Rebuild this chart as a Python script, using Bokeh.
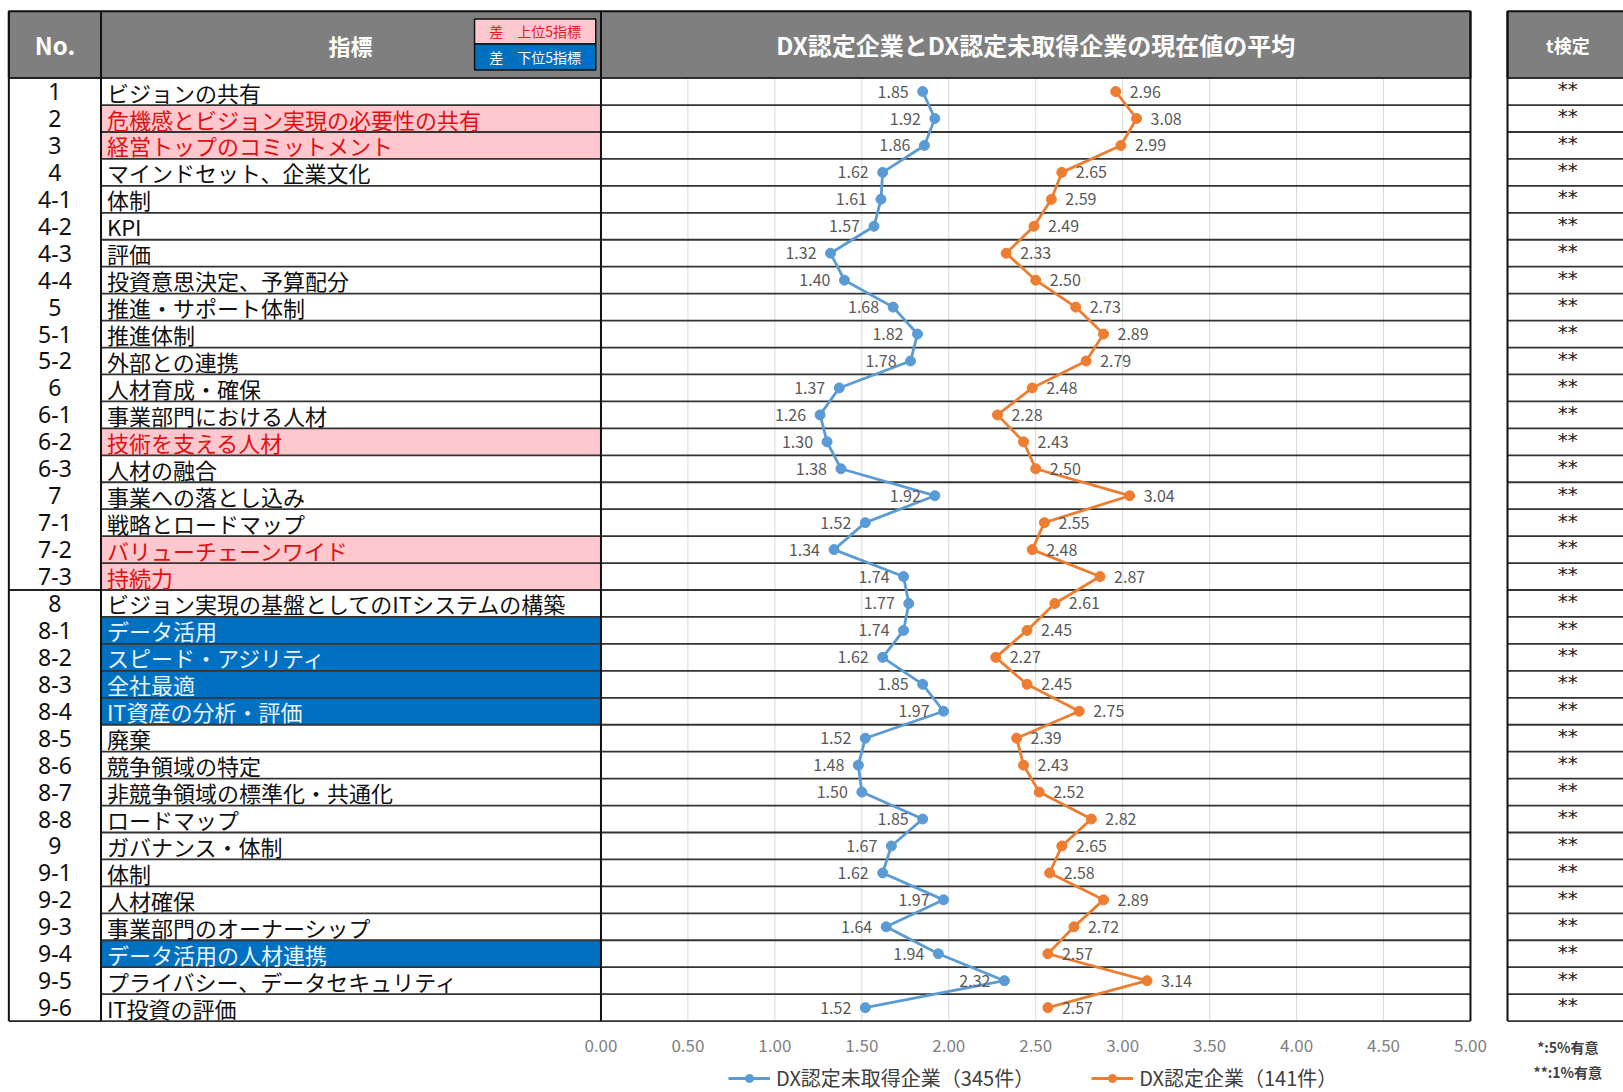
from bokeh.plotting import figure
from bokeh.models import Range1d, ColumnDataSource, Legend, LegendItem
from bokeh.core.properties import value
from bokeh.embed import file_html
from bokeh.resources import INLINE

# ---------------- data ----------------
nos = ["1", "2", "3", "4", "4-1", "4-2", "4-3", "4-4", "5", "5-1", "5-2",
       "6", "6-1", "6-2", "6-3", "7", "7-1", "7-2", "7-3",
       "8", "8-1", "8-2", "8-3", "8-4", "8-5", "8-6", "8-7", "8-8",
       "9", "9-1", "9-2", "9-3", "9-4", "9-5", "9-6"]
indicators = ["ビジョンの共有", "危機感とビジョン実現の必要性の共有", "経営トップのコミットメント",
              "マインドセット、企業文化", "体制", "KPI", "評価", "投資意思決定、予算配分",
              "推進・サポート体制", "推進体制", "外部との連携",
              "人材育成・確保", "事業部門における人材", "技術を支える人材", "人材の融合",
              "事業への落とし込み", "戦略とロードマップ", "バリューチェーンワイド", "持続力",
              "ビジョン実現の基盤としてのITシステムの構築", "データ活用", "スピード・アジリティ",
              "全社最適", "IT資産の分析・評価", "廃棄", "競争領域の特定", "非競争領域の標準化・共通化",
              "ロードマップ", "ガバナンス・体制", "体制", "人材確保", "事業部門のオーナーシップ",
              "データ活用の人材連携", "プライバシー、データセキュリティ", "IT投資の評価"]
non_certified = [1.85, 1.92, 1.86, 1.62, 1.61, 1.57, 1.32, 1.40, 1.68, 1.82, 1.78,
                 1.37, 1.26, 1.30, 1.38, 1.92, 1.52, 1.34, 1.74,
                 1.77, 1.74, 1.62, 1.85, 1.97, 1.52, 1.48, 1.50, 1.85,
                 1.67, 1.62, 1.97, 1.64, 1.94, 2.32, 1.52]
certified = [2.96, 3.08, 2.99, 2.65, 2.59, 2.49, 2.33, 2.50, 2.73, 2.89, 2.79,
             2.48, 2.28, 2.43, 2.50, 3.04, 2.55, 2.48, 2.87,
             2.61, 2.45, 2.27, 2.45, 2.75, 2.39, 2.43, 2.52, 2.82,
             2.65, 2.58, 2.89, 2.72, 2.57, 3.14, 2.57]
top5 = ["2", "3", "6-2", "7-2", "7-3"]
bottom5 = ["8-1", "8-2", "8-3", "8-4", "9-4"]
ttest = ["**", "**", "**", "**", "**", "**", "**", "**", "**", "**", "**",
         "**", "**", "**", "**", "**", "**", "**", "**",
         "**", "**", "**", "**", "**", "**", "**", "**", "**",
         "**", "**", "**", "**", "**", "**", "**"]
ticks = [0.0, 0.5, 1.0, 1.5, 2.0, 2.5, 3.0, 3.5, 4.0, 4.5, 5.0]
tick_labels = ["0.00", "0.50", "1.00", "1.50", "2.00", "2.50", "3.00", "3.50", "4.00", "4.50", "5.00"]
title = "DX認定企業とDX認定未取得企業の現在値の平均"
series_names = ["DX認定未取得企業（345件）", "DX認定企業（141件）"]
footnotes = ["*:5%有意", "**:1%有意"]

# ---------------- layout constants ----------------
JP = value("Noto Sans CJK JP")
BLUE = "#5B9BD5"
ORANGE = "#ED7D31"
n = len(nos)
rows = list(range(n))

X_LEFT, X_NO, X_IND, X_CH, X_T0, X_T1 = -3.405, -2.875, 0.0, 5.0, 5.213, 6.1
Y_HEAD = -2.98
Y_TOP = -0.5
Y_BOT = n - 0.5

p = figure(width=1623, height=1092, output_backend="svg", toolbar_location=None,
           x_range=Range1d(-3.453, 5.880), y_range=Range1d(37.15, -3.38),
           x_axis_type=None, y_axis_type=None, min_border=0)
p.outline_line_color = None
p.background_fill_color = "white"
p.border_fill_color = "white"
p.xgrid.visible = False
p.ygrid.visible = False

# header cells
p.quad(left=[X_LEFT, X_NO, X_IND, X_T0], right=[X_NO, X_IND, X_CH, X_T1],
       top=[Y_HEAD] * 4, bottom=[Y_TOP] * 4,
       fill_color="#7F7F7F", line_color="#111111", line_width=2)

# highlighted indicator cells
hl_top = [i for i in rows if nos[i] in top5]
hl_bot = [i for i in rows if nos[i] in bottom5]
p.quad(left=X_NO, right=X_IND, top=[i - 0.5 for i in hl_top], bottom=[i + 0.5 for i in hl_top],
       fill_color="#FFC7CE", line_color=None)
p.quad(left=X_NO, right=X_IND, top=[i - 0.5 for i in hl_bot], bottom=[i + 0.5 for i in hl_bot],
       fill_color="#0070C0", line_color=None)

# vertical gridlines in chart
grid_x = ticks[1:-1]
p.segment(x0=grid_x, x1=grid_x, y0=[Y_TOP] * len(grid_x), y1=[Y_BOT] * len(grid_x),
          line_color="#D9D9D9", line_width=1)

# row separators
bounds = [i - 0.5 for i in range(n + 1)]
p.segment(x0=[X_NO] * len(bounds), x1=[X_CH] * len(bounds), y0=bounds, y1=bounds,
          line_color="#333333", line_width=1.8)
p.segment(x0=[X_T0] * len(bounds), x1=[X_T1] * len(bounds), y0=bounds, y1=bounds,
          line_color="#333333", line_width=1.8)
group_bounds = [Y_TOP, nos.index("8") - 0.5, Y_BOT]
p.segment(x0=[X_LEFT] * 3, x1=[X_NO] * 3, y0=group_bounds, y1=group_bounds,
          line_color="#222222", line_width=1.8)

# vertical borders
vx = [X_LEFT, X_NO, X_IND, X_CH, X_T0]
p.segment(x0=vx, x1=vx, y0=[Y_HEAD] * 5, y1=[Y_BOT] * 5, line_color="#111111", line_width=2)

# header texts
p.text(x=[(X_LEFT + X_NO) / 2], y=[-1.74], text=["No."], text_align="center", text_baseline="middle",
       text_color="white", text_font=JP, text_font_size="24px", text_font_style="bold")
p.text(x=[-1.44], y=[-1.74], text=["指標"], text_align="center", text_baseline="middle",
       text_color="white", text_font=JP, text_font_size="22px", text_font_style="bold")
p.text(x=[2.5], y=[-1.74], text=[title], text_align="center", text_baseline="middle",
       text_color="white", text_font=JP, text_font_size="24px", text_font_style="bold")
p.text(x=[5.56], y=[-1.74], text=["t検定"], text_align="center", text_baseline="middle",
       text_color="white", text_font=JP, text_font_size="18px", text_font_style="bold")

# header legend boxes
p.quad(left=[-0.727, -0.727], right=[-0.03, -0.03], top=[-2.69, -1.765], bottom=[-1.765, -0.80],
       fill_color=["#FFC7CE", "#0070C0"], line_color="#111111", line_width=1.5)
p.text(x=[-0.378, -0.378], y=[-2.23, -1.28], text=["差　上位5指標", "差　下位5指標"],
       text_align="center", text_baseline="middle", text_color=["#E02020", "white"],
       text_font=JP, text_font_size="14px")

# table texts
p.text(x=[(X_LEFT + X_NO) / 2] * n, y=rows, text=nos, text_align="center", text_baseline="middle",
       text_color="#111111", text_font=value("Noto Sans"), text_font_size="23px")
ind_colors = ["#E01010" if s in top5 else ("#EAF2FB" if s in bottom5 else "#111111") for s in nos]
p.text(x=[-2.841] * n, y=rows, text=indicators, text_align="left", text_baseline="middle",
       text_color=ind_colors, text_font=JP, text_font_size="22px")
p.text(x=[5.56] * n, y=[i - 0.08 for i in rows], text=ttest, text_align="center", text_baseline="middle",
       text_color="#222222", text_font=value("DejaVu Sans"), text_font_size="20px")

# data series
src = ColumnDataSource(dict(y=rows, nc=non_certified, c=certified,
                            ncl=["%.2f" % v for v in non_certified],
                            cl=["%.2f" % v for v in certified]))
l1 = p.line(x="nc", y="y", source=src, line_color=BLUE, line_width=2.8)
s1 = p.scatter(x="nc", y="y", source=src, size=10, fill_color=BLUE, line_color=BLUE)
l2 = p.line(x="c", y="y", source=src, line_color=ORANGE, line_width=2.8)
s2 = p.scatter(x="c", y="y", source=src, size=10, fill_color=ORANGE, line_color=ORANGE)
p.text(x="nc", y="y", text="ncl", source=src, x_offset=-14, text_align="right", text_baseline="middle",
       text_color="#595959", text_font=JP, text_font_size="16px")
p.text(x="c", y="y", text="cl", source=src, x_offset=14, text_align="left", text_baseline="middle",
       text_color="#595959", text_font=JP, text_font_size="16px")

# x tick labels
p.text(x=ticks, y=[35.41] * len(ticks), text=tick_labels, text_align="center", text_baseline="middle",
       text_color="#7F7F7F", text_font=JP, text_font_size="17px")

# footnotes
p.text(x=[5.56, 5.56], y=[35.45, 36.38], text=footnotes, text_align="center", text_baseline="middle",
       text_color="#404040", text_font=JP, text_font_size="14px", text_font_style="bold")

# legend
legend = Legend(items=[LegendItem(label=series_names[0], renderers=[l1, s1]),
                       LegendItem(label=series_names[1], renderers=[l2, s2])],
                location=(728, 0), orientation="horizontal", border_line_color=None,
                background_fill_alpha=0, padding=0, margin=0, spacing=57,
                glyph_width=42, glyph_height=20, label_height=20, label_standoff=6,
                label_text_font="Noto Sans CJK JP", label_text_font_size="20px",
                label_text_color="#404040")
p.add_layout(legend)

open("out.html", "w").write(file_html(p, INLINE))
